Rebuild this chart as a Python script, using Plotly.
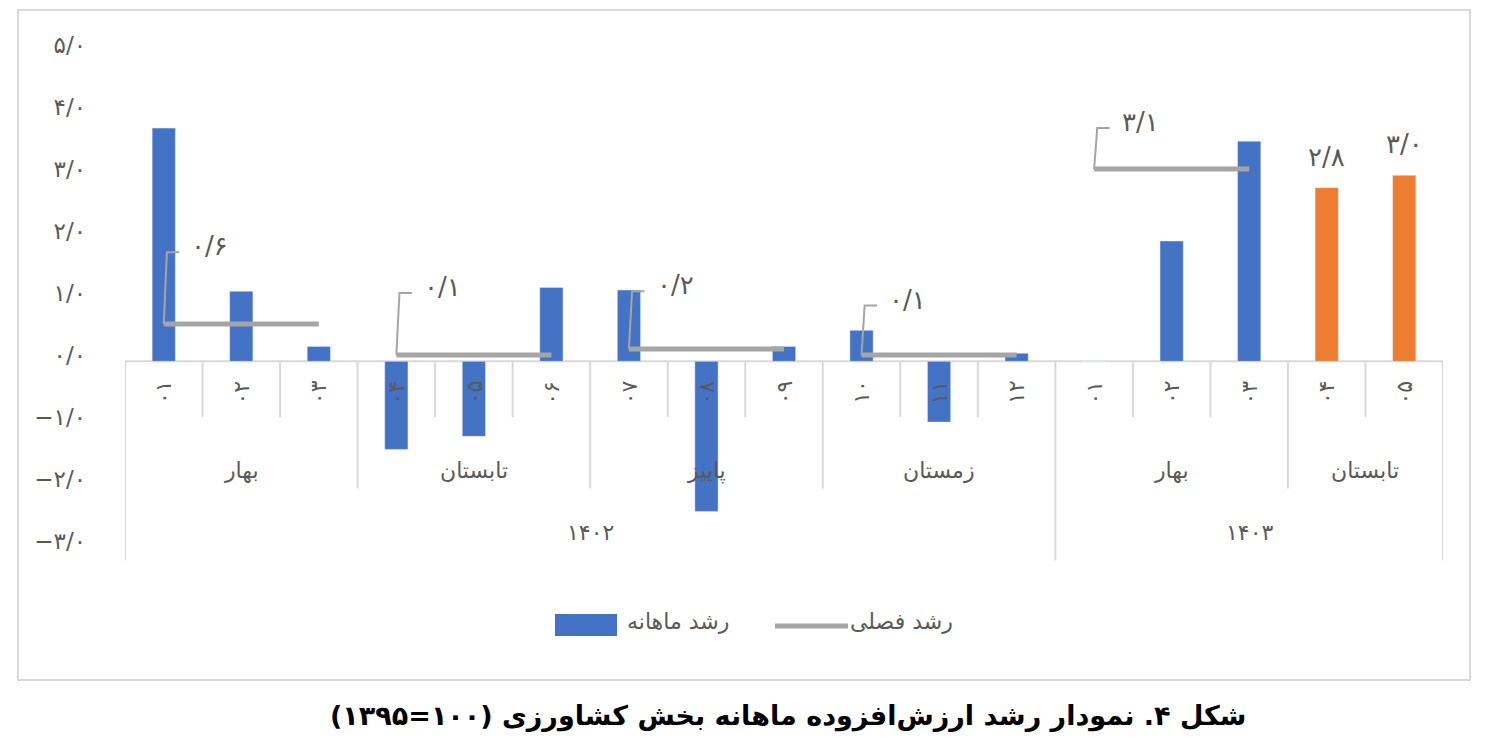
import plotly.graph_objects as go

# ---------------- data ----------------
month_labels = ["۰۱", "۰۲", "۰۳", "۰۴", "۰۵", "۰۶", "۰۷", "۰۸", "۰۹", "۱۰", "۱۱", "۱۲",
                "۰۱", "۰۲", "۰۳", "۰۴", "۰۵"]
monthly_growth = [3.76, 1.13, 0.24, -1.42, -1.21, 1.19, 1.15, -2.42, 0.24, 0.50, -0.98, 0.13,
                  0.0, 1.94, 3.55, None, None]
monthly_growth_recent = [None] * 15 + [2.8, 3.0]
seasons = ["بهار", "تابستان", "پاییز", "زمستان", "بهار", "تابستان"]
season_sizes = [3, 3, 3, 3, 3, 2]
years = ["۱۴۰۲", "۱۴۰۳"]
year_sizes = [12, 5]
seasonal_growth = [0.6, 0.1, 0.2, 0.1, 3.1]
ytick_vals = [-3, -2, -1, 0, 1, 2, 3, 4, 5]

# ---------------- helpers ----------------
FA = str.maketrans("0123456789.-", "۰۱۲۳۴۵۶۷۸۹/−")


def fa(v):
    return f"{v:.1f}".translate(FA)


W, H = 1485, 748
L, R, T, B = 125, 42, 45, 182
YMIN, YMAX = -3.3, 5.1


def px(x):
    return (x - L) / (W - L - R)


def py(y):
    return (H - B - y) / (H - T - B)


BLUE = "#4472C4"
ORANGE = "#ED7D31"
GRAY = "#A5A5A5"
TXT = "#595959"
GRID = "#D9D9D9"
FONT = "DejaVu Sans"

n = len(month_labels)
xs = list(range(n))

fig = go.Figure()

fig.add_trace(go.Bar(x=xs, y=monthly_growth, marker_color=BLUE, name="رشد ماهانه",
                     width=0.3, showlegend=False))
fig.add_trace(go.Bar(x=xs, y=monthly_growth_recent, marker_color=ORANGE, name="recent",
                     width=0.3, showlegend=False))

# seasonal line segments
line_x, line_y = [], []
starts = []
s = 0
for size in season_sizes:
    starts.append(s)
    s += size
for i, v in enumerate(seasonal_growth):
    st = starts[i]
    line_x += [st, st + season_sizes[i] - 1, None]
    line_y += [v, v, None]
fig.add_trace(go.Scatter(x=line_x, y=line_y, mode="lines", line=dict(color=GRAY, width=5),
                         name="رشد فصلی", showlegend=False))

shapes = []
annotations = []

# leader lines + labels for seasonal values
leader_dy = [1.16, 1.0, 0.93, 0.8, 0.66]
for i, v in enumerate(seasonal_growth):
    st = starts[i]
    top = v + leader_dy[i]
    shapes.append(dict(type="path", xref="x", yref="y",
                       path=f"M {st},{v} L {st + 0.04},{top} L {st + 0.2},{top}",
                       line=dict(color=GRAY, width=2)))
    annotations.append(dict(x=st + 0.33, y=top, xref="x", yref="y", text=fa(v),
                            showarrow=False, xanchor="left", yshift=6,
                            font=dict(family=FONT, size=26, color=TXT)))

# labels on recent (orange) bars
for i, v in enumerate(monthly_growth_recent):
    if v is not None:
        annotations.append(dict(x=i, y=v, xref="x", yref="y", text=fa(v), showarrow=False,
                                yanchor="bottom", yshift=14,
                                font=dict(family=FONT, size=26, color=TXT)))

# category table
ROW1, ROW2, ROW3 = -0.9, -2.05, -3.21
season_bounds = [0]
for size in season_sizes:
    season_bounds.append(season_bounds[-1] + size)
year_bounds = [0]
for size in year_sizes:
    year_bounds.append(year_bounds[-1] + size)
for b in range(n + 1):
    if b in year_bounds:
        y1 = ROW3
    elif b in season_bounds:
        y1 = ROW2
    else:
        y1 = ROW1
    shapes.append(dict(type="line", xref="x", yref="y", x0=b - 0.5, x1=b - 0.5, y0=0, y1=y1,
                       line=dict(color=GRID, width=2), layer="below"))
shapes.append(dict(type="line", xref="x", yref="y", x0=-0.5, x1=n - 0.5, y0=0, y1=0,
                   line=dict(color=GRID, width=2), layer="below"))

for i, m in enumerate(month_labels):
    annotations.append(dict(x=i, y=-0.5, xref="x", yref="y", text=m, showarrow=False,
                            textangle=-90, font=dict(family=FONT, size=22, color=TXT)))
for k, sname in enumerate(seasons):
    c = (season_bounds[k] + season_bounds[k + 1] - 1) / 2
    annotations.append(dict(x=c, y=-1.73, xref="x", yref="y", text=sname, showarrow=False,
                            yshift=-2, font=dict(family=FONT, size=22, color=TXT)))
for k, yname in enumerate(years):
    c = (year_bounds[k] + year_bounds[k + 1] - 1) / 2
    annotations.append(dict(x=c, y=-2.76, xref="x", yref="y", text=yname, showarrow=False,
                            font=dict(family=FONT, size=22, color=TXT)))

# legend (drawn)
shapes.append(dict(type="rect", xref="paper", yref="paper", x0=px(555), x1=px(617),
                   y0=py(636), y1=py(614), fillcolor=BLUE, line=dict(width=0)))
annotations.append(dict(x=px(625), y=py(636), xref="paper", yref="paper", text="رشد ماهانه",
                        showarrow=False, xanchor="left",
                        font=dict(family=FONT, size=22, color=TXT)))
shapes.append(dict(type="line", xref="paper", yref="paper", x0=px(775), x1=px(848),
                   y0=py(626), y1=py(626), line=dict(color=GRAY, width=5)))
annotations.append(dict(x=px(848), y=py(636), xref="paper", yref="paper", text="رشد فصلی",
                        showarrow=False, xanchor="left",
                        font=dict(family=FONT, size=22, color=TXT)))

# outer frame
shapes.append(dict(type="rect", xref="paper", yref="paper", x0=px(18), x1=px(1470),
                   y0=py(680), y1=py(10), line=dict(color=GRID, width=2), layer="below"))

# caption
annotations.append(dict(x=px(788), y=py(734), xref="paper", yref="paper",
                        text="<b>\u200fشکل ۴. نمودار رشد ارزش\u200cافزوده ماهانه بخش کشاورزی (۱۰۰=۱۳۹۵)\u200f</b>",
                        showarrow=False, font=dict(family=FONT, size=27, color="black")))

fig.update_layout(
    width=W, height=H,
    margin=dict(l=L, r=R, t=T, b=B),
    paper_bgcolor="white", plot_bgcolor="white",
    barmode="overlay",
    showlegend=False,
    shapes=shapes,
    annotations=annotations,
    xaxis=dict(range=[-0.5, n - 0.5], showticklabels=False, showgrid=False,
               zeroline=False, showline=False, ticks=""),
    yaxis=dict(range=[YMIN, YMAX], tickvals=ytick_vals, ticktext=[fa(v) for v in ytick_vals],
               showgrid=False, zeroline=False, showline=False, ticks="",
               ticklabelstandoff=38, ticklabelshift=-6,
               tickfont=dict(family=FONT, size=23, color=TXT)),
)

fig.write_html("out.html")
